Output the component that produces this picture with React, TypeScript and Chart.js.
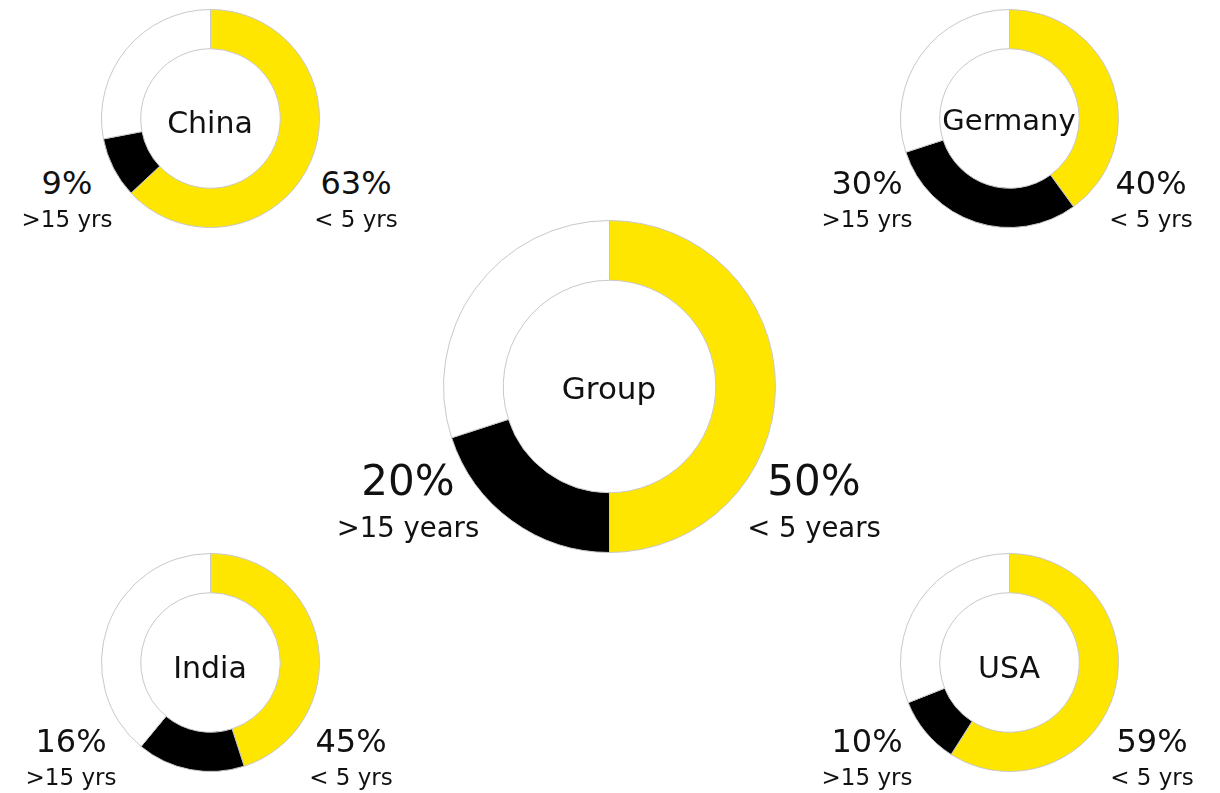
import React, { useEffect, useRef } from "react";
import { Chart, registerables } from "chart.js";

Chart.register(...registerables);

const segmentLabels = ["< 5 years", ">15 years", "5–15 years"];
const regions = ["Group", "China", "Germany", "India", "USA"];
const under5 = [50, 63, 40, 45, 59];
const over15 = [20, 9, 30, 16, 10];
const middle = [30, 28, 30, 39, 31];
const under5Labels = ["< 5 years", "< 5 yrs", "< 5 yrs", "< 5 yrs", "< 5 yrs"];
const over15Labels = [">15 years", ">15 yrs", ">15 yrs", ">15 yrs", ">15 yrs"];

const COLORS = ["#FFE600", "#000000", "#FFFFFF"];
const FONT = "'DejaVu Sans', sans-serif";

type Layout = {
  cx: number;
  cy: number;
  r: number;
  name: number;
  nameY: number;
  pct: number;
  sub: number;
  leftX: number;
  rightX: number;
  pctY: number;
  subY: number;
};

const layouts: Layout[] = [
  { cx: 609, cy: 386, r: 166, name: 31, nameY: 388, pct: 42, sub: 27.5, leftX: 408, rightX: 814, pctY: 481, subY: 528 },
  { cx: 210, cy: 118, r: 109, name: 30, nameY: 123, pct: 32, sub: 23, leftX: 67, rightX: 356, pctY: 183, subY: 219 },
  { cx: 1009, cy: 118, r: 109, name: 29, nameY: 120, pct: 32, sub: 23, leftX: 867, rightX: 1151, pctY: 183, subY: 219 },
  { cx: 210, cy: 662, r: 109, name: 30, nameY: 668, pct: 32, sub: 23, leftX: 71, rightX: 351, pctY: 741, subY: 777 },
  { cx: 1009, cy: 662, r: 109, name: 30, nameY: 668, pct: 32, sub: 23, leftX: 867, rightX: 1152, pctY: 741, subY: 777 },
];

function Donut({ idx }: { idx: number }) {
  const ref = useRef<HTMLCanvasElement | null>(null);
  const L = layouts[idx];
  const size = 2 * L.r + 1;
  useEffect(() => {
    if (!ref.current) return;
    const chart = new Chart(ref.current, {
      type: "doughnut",
      data: {
        labels: segmentLabels,
        datasets: [
          {
            data: [under5[idx], over15[idx], middle[idx]],
            backgroundColor: COLORS,
            borderColor: "#c8c8c8",
            borderWidth: 1,
            hoverOffset: 0,
          },
        ],
      },
      options: {
        animation: false,
        responsive: false,
        maintainAspectRatio: false,
        cutout: "64%",
        events: [],
        layout: { padding: 0 },
        plugins: { legend: { display: false }, tooltip: { enabled: false } },
      },
    });
    return () => chart.destroy();
  }, [idx]);

  const txt = (x: number, y: number, size: number, weight: number, s: string) => (
    <div
      style={{
        position: "absolute",
        left: x,
        top: y,
        transform: "translate(-50%, -50%)",
        fontFamily: FONT,
        fontSize: size,
        fontWeight: weight,
        lineHeight: 1,
        whiteSpace: "nowrap",
        color: "#111",
      }}
    >
      {s}
    </div>
  );

  return (
    <>
      <canvas
        ref={ref}
        width={size}
        height={size}
        style={{ position: "absolute", left: L.cx - size / 2, top: L.cy - size / 2, width: size, height: size }}
      />
      {txt(L.cx, L.nameY, L.name, 400, regions[idx])}
      {txt(L.leftX, L.pctY, L.pct, 400, `${over15[idx]}%`)}
      {txt(L.leftX, L.subY, L.sub, 400, over15Labels[idx])}
      {txt(L.rightX, L.pctY, L.pct, 400, `${under5[idx]}%`)}
      {txt(L.rightX, L.subY, L.sub, 400, under5Labels[idx])}
    </>
  );
}

export default function App() {
  return (
    <div style={{ position: "absolute", left: 0, top: 0, width: 1220, height: 793, background: "#fff", overflow: "hidden" }}>
      {regions.map((_, i) => (
        <Donut key={i} idx={i} />
      ))}
    </div>
  );
}
